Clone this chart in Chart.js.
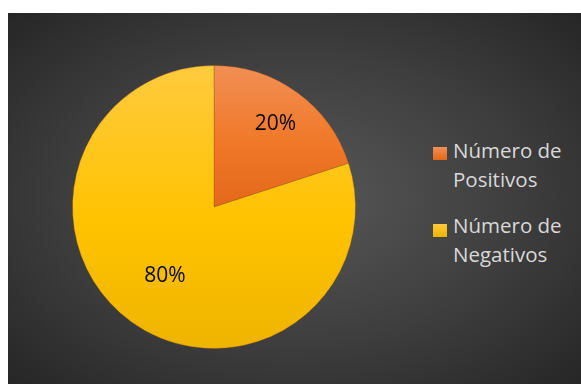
<!DOCTYPE html>
<html>
<head>
<meta charset="utf-8">
<script src="https://cdn.jsdelivr.net/npm/chart.js@4"></script>
<style>
  html, body { margin: 0; padding: 0; background: #ffffff; }
  body { width: 581px; height: 384px; position: relative; overflow: hidden; }
  #panel {
    position: absolute; left: 8px; top: 13px; width: 573px; height: 371px;
    background: radial-gradient(ellipse farthest-corner at 50% 50%, #585858 0%, #3e3e3e 55%, #262626 100%);
  }
  #c { position: absolute; left: 0; top: 0; }
  .lg { position: absolute; font-family: "Open Sans", sans-serif; font-size: 20.5px; line-height: 29px; color: #d9d9d9; }
  .sw { position: absolute; width: 14px; height: 13px; }
</style>
</head>
<body>
<div id="panel">
  <canvas id="c" width="420" height="371"></canvas>
</div>
<script>
// ---- data ----
const categories = ["Número de Positivos", "Número de Negativos"];
const legendLines = [["Número de", "Positivos"], ["Número de", "Negativos"]];
const values = [20, 80];
const percentLabels = ["20%", "80%"];

// ---- styles ----
const gradStops = [["#f28f55", "#f07828", "#e4681a"], ["#ffca3e", "#ffc300", "#eeb400"]];
const labelRadiusFrac = [0.74, 0.59];

const panel = document.getElementById('panel');
// HTML legend
const legendTops = [123, 198];
const boxTops = [134, 211];
legendLines.forEach((lines, i) => {
  const sw = document.createElement('div');
  sw.className = 'sw';
  sw.style.left = '425px';
  sw.style.top = boxTops[i] + 'px';
  sw.style.background = 'linear-gradient(' + gradStops[i][0] + ',' + gradStops[i][2] + ')';
  panel.appendChild(sw);
  const t = document.createElement('div');
  t.className = 'lg';
  t.style.left = '445px';
  t.style.top = legendTops[i] + 'px';
  t.innerHTML = lines.join('<br>');
  panel.appendChild(t);
});

function sliceGradient(ctx) {
  const chart = ctx.chart;
  const a = chart.chartArea;
  const i = ctx.dataIndex;
  if (!a) return gradStops[i][1];
  const cy = (a.top + a.bottom) / 2;
  const r = Math.min(a.right - a.left, a.bottom - a.top) / 2;
  const y0 = cy - r;
  const y1 = i === 0 ? cy : cy + r;
  const g = chart.ctx.createLinearGradient(0, y0, 0, y1);
  g.addColorStop(0, gradStops[i][0]);
  g.addColorStop(0.55, gradStops[i][1]);
  g.addColorStop(1, gradStops[i][2]);
  return g;
}

const pctPlugin = {
  id: 'pct',
  afterDatasetsDraw(chart) {
    const meta = chart.getDatasetMeta(0);
    const c = chart.ctx;
    c.save();
    c.font = '21px "Open Sans", sans-serif';
    c.fillStyle = '#0a0a0a';
    c.textAlign = 'center';
    c.textBaseline = 'alphabetic';
    meta.data.forEach((arc, i) => {
      const p = arc.getProps(['x', 'y', 'startAngle', 'endAngle', 'outerRadius'], true);
      const mid = (p.startAngle + p.endAngle) / 2;
      const d = p.outerRadius * labelRadiusFrac[i];
      const x = p.x + Math.cos(mid) * d;
      const y = p.y + Math.sin(mid) * d;
      c.fillText(percentLabels[i], x, y + 7.5);
    });
    c.restore();
  }
};

new Chart(document.getElementById('c'), {
  type: 'pie',
  data: {
    labels: categories,
    datasets: [{
      data: values,
      backgroundColor: sliceGradient,
      borderColor: 'rgba(150,80,20,0.35)',
      borderWidth: 1
    }]
  },
  options: {
    responsive: false,
    animation: false,
    devicePixelRatio: 1,
    layout: { padding: { left: 64, right: 72, top: 52, bottom: 35 } },
    plugins: { legend: { display: false }, tooltip: { enabled: false } }
  },
  plugins: [pctPlugin]
});
</script>
</body>
</html>
